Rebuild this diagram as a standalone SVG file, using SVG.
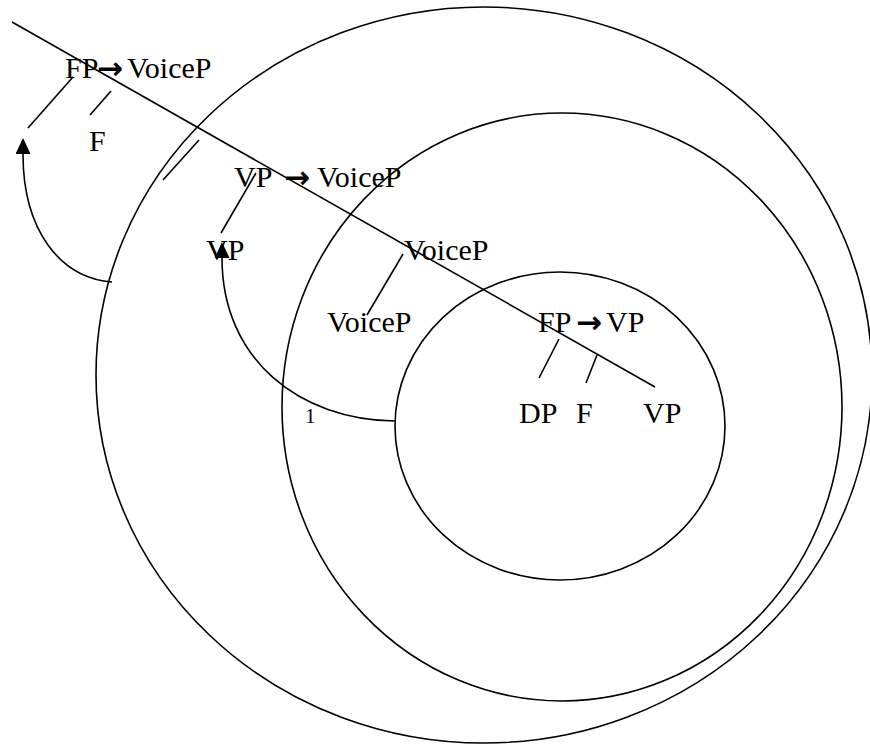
<svg xmlns="http://www.w3.org/2000/svg" width="870" height="745" viewBox="0 0 870 745">
<style>
.t{font-family:"Liberation Serif","Times New Roman",serif;font-size:30px;fill:#000}
.ar{font-family:"DejaVu Sans",sans-serif;font-size:31px;font-weight:bold;fill:#000}
.s{fill:none;stroke:#000;stroke-width:1.6}
</style>
<defs>
<marker id="ah" viewBox="0 0 16 15" refX="0" refY="7.5" markerWidth="16" markerHeight="15" markerUnits="userSpaceOnUse" orient="auto">
<path d="M0,0 L16,7.5 L0,15 z" fill="#000"/>
</marker>
</defs>
<rect width="870" height="745" fill="#fff"/>
<g id="circles">
<ellipse class="s" cx="484" cy="375" rx="388" ry="368"/>
<ellipse class="s" cx="562" cy="407" rx="280" ry="294"/>
<ellipse class="s" cx="560" cy="426" rx="165" ry="154"/>
</g>
<g id="connectors">
<line class="s" x1="12" y1="22" x2="655" y2="387"/>
<line class="s" x1="73" y1="77" x2="28" y2="128"/>
<line class="s" x1="111" y1="91" x2="90" y2="115"/>
<line class="s" x1="199" y1="140" x2="163" y2="180"/>
<line class="s" x1="256" y1="173" x2="221" y2="233"/>
<line class="s" x1="403" y1="254" x2="367" y2="315"/>
<line class="s" x1="559" y1="339" x2="539" y2="378"/>
<line class="s" x1="597" y1="355" x2="586" y2="383"/>
<path class="s" d="M112,282 C60,278 23,230 23,154" marker-end="url(#ah)"/>
<path class="s" d="M395,421 C300,420 222,360 222,258" marker-end="url(#ah)"/>
</g>
<g id="n-fp-voicep"><text class="t" x="65" y="78">FP</text><text class="ar" x="97" y="79">→</text><text class="t" x="127" y="78">VoiceP</text></g>
<g id="n-f1"><text class="t" x="89" y="151">F</text></g>
<g id="n-vp-voicep"><text class="t" x="234" y="187">VP</text><text class="ar" x="284" y="188">→</text><text class="t" x="317" y="187">VoiceP</text></g>
<g id="n-vp2"><text class="t" x="206" y="260">VP</text></g>
<g id="n-voicep1"><text class="t" x="404" y="260">VoiceP</text></g>
<g id="n-voicep2"><text class="t" x="327" y="332">VoiceP</text></g>
<g id="n-1"><text class="t" x="305" y="423" style="font-size:21px">1</text></g>
<g id="n-fp-vp"><text class="t" x="538" y="332">FP</text><text class="ar" x="576" y="333">→</text><text class="t" x="606" y="332">VP</text></g>
<g id="n-dp"><text class="t" x="519" y="423">DP</text></g>
<g id="n-f2"><text class="t" x="576" y="423">F</text></g>
<g id="n-vp3"><text class="t" x="643" y="423">VP</text></g>
</svg>
